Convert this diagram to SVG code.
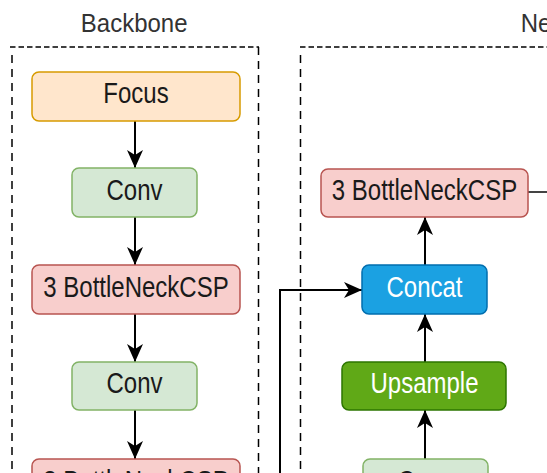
<svg xmlns="http://www.w3.org/2000/svg" width="547" height="473" viewBox="0 0 547 473">
<style>
.t{font-family:"Liberation Sans",Arial,sans-serif;font-size:24px;text-anchor:middle;fill:#1a1a1a}
.w{fill:#ffffff}
.title{font-family:"Liberation Sans",Arial,sans-serif;font-size:24px;fill:#333333}
.focus{fill:#ffe6cc;stroke:#d79b00;stroke-width:1.5}
.conv{fill:#d5e8d4;stroke:#82b366;stroke-width:1.5}
.csp{fill:#f8cecc;stroke:#b85450;stroke-width:1.5}
.concat{fill:#1ba1e2;stroke:#006eaf;stroke-width:1.5}
.up{fill:#60a917;stroke:#2d7600;stroke-width:1.5}
.dh{fill:none;stroke:#000;stroke-width:1.5;stroke-dasharray:5.5 3}
.dv{fill:none;stroke:#000;stroke-width:1.5;stroke-dasharray:8 6}
.e{fill:none;stroke:#000;stroke-width:2}
</style>
<defs>
<marker id="arr" viewBox="0 0 18 16" refX="18" refY="8" markerWidth="18" markerHeight="16" markerUnits="userSpaceOnUse" orient="auto">
<path d="M0,0 L18,8 L0,16 L5,8 Z" fill="#000"/>
</marker>
</defs>
<g id="backbone-group">
<g transform="translate(134.2,31.7) scale(1,1.08)"><text class="title" x="0" y="0" text-anchor="middle">Backbone</text></g>
<line class="dh" x1="10" y1="47" x2="259" y2="47"/>
<line class="dv" x1="12" y1="55" x2="12" y2="473"/>
<line class="dv" x1="258.5" y1="47" x2="258.5" y2="473"/>
</g>
<g id="neck-group">
<text class="title" x="520.7" y="31.7" transform="translate(0,-2.5) scale(1,1.08)">Neck</text>
<line class="dh" x1="300" y1="47" x2="547" y2="47"/>
<line class="dv" x1="300.5" y1="55" x2="300.5" y2="473"/>
</g>
<g id="connectors">
<line class="e" x1="135" y1="121" x2="135" y2="168" marker-end="url(#arr)"/>
<line class="e" x1="135" y1="217" x2="135" y2="265" marker-end="url(#arr)"/>
<line class="e" x1="135" y1="314" x2="135" y2="362" marker-end="url(#arr)"/>
<line class="e" x1="135" y1="410" x2="135" y2="459" marker-end="url(#arr)"/>
<polyline class="e" points="280,473 280,290 362,290" marker-end="url(#arr)"/>
<line class="e" x1="425" y1="459" x2="425" y2="410" marker-end="url(#arr)"/>
<line class="e" x1="425" y1="362" x2="425" y2="314" marker-end="url(#arr)"/>
<line class="e" x1="425" y1="265" x2="425" y2="217" marker-end="url(#arr)"/>
<line x1="528" y1="192" x2="547" y2="192" stroke="#444" stroke-width="2"/>
</g>
<g id="focus">
<rect class="focus" x="32" y="72" width="208" height="49" rx="7"/>
<g transform="translate(136,103.3) scale(1,1.25)"><text class="t" x="0" y="0">Focus</text></g>
</g>
<g id="conv1">
<rect class="conv" x="72" y="168" width="125" height="49" rx="7"/>
<g transform="translate(134.5,199.5) scale(1,1.25)"><text class="t" x="0" y="0">Conv</text></g>
</g>
<g id="csp1">
<rect class="csp" x="32" y="265" width="208" height="49" rx="7"/>
<g transform="translate(136,296.5) scale(1,1.25)"><text class="t" x="0" y="0">3 BottleNeckCSP</text></g>
</g>
<g id="conv2">
<rect class="conv" x="72" y="362" width="125" height="48" rx="7"/>
<g transform="translate(134.5,393) scale(1,1.25)"><text class="t" x="0" y="0">Conv</text></g>
</g>
<g id="csp2">
<rect class="csp" x="32" y="459" width="208" height="49" rx="7"/>
<g transform="translate(136,490.5) scale(1,1.25)"><text class="t" x="0" y="0">3 BottleNeckCSP</text></g>
</g>
<g id="neck-csp">
<rect class="csp" x="321" y="169" width="207" height="48" rx="7"/>
<g transform="translate(424.5,200) scale(1,1.25)"><text class="t" x="0" y="0">3 BottleNeckCSP</text></g>
</g>
<g id="concat">
<rect class="concat" x="362" y="265" width="125" height="49" rx="7"/>
<g transform="translate(424.5,296.5) scale(1,1.25)"><text class="t w" x="0" y="0">Concat</text></g>
</g>
<g id="upsample">
<rect class="up" x="342" y="362" width="164" height="48" rx="7"/>
<g transform="translate(424.5,393) scale(1,1.25)"><text class="t w" x="0" y="0">Upsample</text></g>
</g>
<g id="neck-conv">
<rect class="conv" x="363" y="459" width="125" height="49" rx="7"/>
<g transform="translate(425.5,490.5) scale(1,1.25)"><text class="t" x="0" y="0">Conv</text></g>
</g>
</svg>
